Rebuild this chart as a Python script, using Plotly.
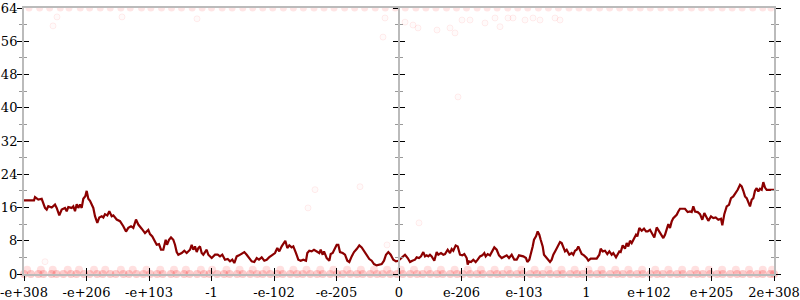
import plotly.graph_objects as go

# ---- axis tick labels ----
tick_pos = [0, 1, 2, 3, 4, 5, 6, 7, 8, 9, 10, 11, 12]
tick_text = ["-e+308", "-e+206", "-e+103", "-1", "-e-102", "-e-205", "0",
             "e-206", "e-103", "1", "e+102", "e+205", "2e+308"]
y_ticks = [0, 8, 16, 24, 32, 40, 48, 56, 64]

# ---- main smoothed line (x in tick units, y values) ----
line_x = [0, 0.16, 0.176, 0.229, 0.283, 0.336, 0.363, 0.389, 0.443, 0.496, 0.523, 0.565, 0.603, 0.656, 0.683,
          0.709, 0.763, 0.789, 0.816, 0.843, 0.869, 0.896, 0.923, 0.949, 0.981, 1.003, 1.029, 1.056, 1.109, 1.136,
          1.173, 1.205, 1.243, 1.269, 1.296, 1.333, 1.365, 1.403, 1.429, 1.483, 1.536, 1.589, 1.632, 1.669, 1.712,
          1.749, 1.792, 1.829, 1.883, 1.936,
          1.989, 2.016, 2.053, 2.096, 2.123, 2.16, 2.192, 2.229, 2.267, 2.288, 2.32, 2.352, 2.389, 2.416, 2.443,
          2.469, 2.523, 2.565, 2.603, 2.656, 2.683, 2.709, 2.736, 2.763, 2.789, 2.816, 2.843, 2.869, 2.923, 2.949,
          3.003, 3.056, 3.099, 3.136, 3.173, 3.216, 3.259, 3.296, 3.333, 3.365, 3.403, 3.44, 3.483, 3.525, 3.563,
          3.6, 3.643, 3.685, 3.723, 3.76, 3.803, 3.845, 3.883, 3.92,
          4.016, 4.053, 4.085, 4.123, 4.16, 4.181, 4.213, 4.245, 4.283, 4.309, 4.352, 4.389, 4.427, 4.469, 4.512,
          4.533, 4.565, 4.603, 4.64, 4.683, 4.725, 4.747, 4.779, 4.8, 4.843, 4.885, 4.907, 4.939, 4.976, 5.003,
          5.029, 5.056, 5.099, 5.136, 5.173, 5.205, 5.243, 5.28, 5.323, 5.365, 5.403, 5.44, 5.483, 5.525, 5.563,
          5.6, 5.643, 5.685, 5.723, 5.76, 5.792, 5.829, 5.867, 5.909, 5.952,
          5.989, 6.032, 6.069, 6.096, 6.139, 6.176, 6.213, 6.256, 6.283, 6.32, 6.352, 6.389, 6.416, 6.443, 6.469,
          6.496, 6.523, 6.565, 6.603, 6.629, 6.672, 6.709, 6.736, 6.779, 6.816, 6.843, 6.869, 6.907, 6.939, 6.976,
          7.013, 7.045, 7.083, 7.099, 7.12, 7.152, 7.189, 7.227, 7.259, 7.296, 7.333, 7.365, 7.387, 7.419, 7.456,
          7.483, 7.525, 7.563, 7.6, 7.643, 7.685, 7.723, 7.76, 7.803, 7.845, 7.883, 7.92,
          7.989, 8.032, 8.053, 8.085, 8.107, 8.139, 8.16, 8.192, 8.219, 8.245, 8.267, 8.299, 8.32, 8.352, 8.389,
          8.416, 8.443, 8.469, 8.512, 8.549, 8.576, 8.603, 8.629, 8.656, 8.683, 8.725, 8.763, 8.789, 8.816, 8.843,
          8.869, 8.896, 8.923, 8.96, 9.003, 9.029, 9.067, 9.109, 9.163, 9.205, 9.227, 9.259, 9.296, 9.333, 9.365,
          9.403, 9.429, 9.472, 9.493, 9.525, 9.547, 9.579, 9.616, 9.643, 9.669, 9.696, 9.723, 9.76, 9.792, 9.813,
          9.845, 9.883, 9.92, 9.952,
          9.979, 10.016, 10.053, 10.085, 10.123, 10.16, 10.192, 10.229, 10.256, 10.283, 10.309, 10.336, 10.363,
          10.389, 10.416, 10.443, 10.469, 10.496, 10.533, 10.576, 10.619, 10.656, 10.683, 10.709, 10.736, 10.779,
          10.816, 10.853, 10.885, 10.923, 10.949, 10.992, 11.029, 11.067, 11.109, 11.152, 11.173, 11.205, 11.243,
          11.28, 11.312, 11.349, 11.387, 11.419, 11.456, 11.483, 11.509, 11.536, 11.563, 11.589, 11.616, 11.643,
          11.669, 11.696, 11.723, 11.749, 11.776, 11.803, 11.829, 11.856, 11.883, 11.936, 12.0]
line_y = [17.7, 17.7, 18.5, 17.9, 18.1, 15.9, 15.5, 16.3, 16.0, 16.7, 15.9, 14.1, 15.5, 15.9, 15.1,
          16.1, 15.9, 16.3, 15.1, 16.8, 15.9, 16.7, 15.9, 18.1, 18.7, 20.0, 18.1, 17.6, 15.9, 13.9,
          12.3, 13.6, 13.9, 13.6, 14.4, 14.1, 15.1, 13.9, 14.1, 13.1, 12.7, 11.5, 10.2, 11.1, 11.5,
          11.1, 13.1, 11.9, 10.9, 9.85,
          10.6, 9.6, 9.05, 7.84, 7.04, 7.2, 5.84, 5.84, 8.24, 7.04, 8.24, 8.8, 8.24, 7.04, 5.28,
          4.64, 5.04, 5.6, 5.04, 5.84, 7.04, 5.84, 6.64, 5.28, 6.24, 6.64, 5.04, 4.64, 5.84, 4.64,
          3.84, 4.64, 4.64, 4.24, 4.64, 3.44, 3.6, 3.04, 3.44, 2.64, 4.24, 4.48, 4.8, 5.28, 4.64,
          4.0, 3.04, 2.88, 3.84, 3.44, 4.0, 3.2, 3.44, 4.0,
          5.04, 6.24, 5.44, 6.64, 7.44, 8.0, 6.24, 6.88, 6.4, 6.64, 5.04, 3.44, 3.2, 3.44, 3.2,
          5.04, 5.6, 5.44, 5.84, 5.44, 5.04, 5.84, 4.64, 5.44, 3.84, 3.2, 4.8, 5.04, 6.0, 7.04,
          7.04, 5.28, 5.04, 4.64, 3.2, 2.88, 4.24, 5.28, 6.0, 6.88, 6.4, 5.6, 4.64, 3.6, 3.2,
          2.4, 2.08, 2.24, 2.4, 3.2, 4.64, 5.28, 4.64, 3.44, 3.04,
          3.2, 3.84, 4.48, 4.64, 3.84, 2.88, 3.2, 3.44, 4.0, 3.84, 4.24, 5.28, 4.24, 4.48, 4.24,
          4.64, 4.24, 3.2, 5.28, 4.64, 5.04, 4.64, 4.8, 5.84, 5.04, 6.0, 5.6, 6.88, 6.64, 4.64,
          4.48, 4.8, 3.84, 2.24, 3.04, 2.88, 3.44, 2.88, 3.44, 4.24, 4.48, 5.04, 4.24, 4.8, 4.48,
          5.28, 6.4, 5.84, 4.48, 3.84, 4.24, 4.48, 3.84, 4.64, 3.44, 3.44, 4.48,
          4.24, 3.84, 2.88, 3.44, 4.64, 6.64, 8.24, 9.05, 10.25, 9.45, 8.24, 6.64, 4.64, 4.0, 3.44,
          2.88, 3.44, 4.64, 5.84, 7.04, 7.68, 7.44, 6.24, 5.44, 5.84, 4.64, 5.04, 4.64, 5.6, 5.84,
          6.64, 5.6, 4.8, 4.48, 3.84, 3.2, 3.68, 3.68, 3.68, 4.64, 6.08, 5.44, 5.6, 4.8, 5.44,
          4.64, 5.04, 4.0, 4.48, 5.44, 5.28, 6.88, 6.08, 7.44, 6.64, 8.0, 7.44, 8.64, 9.45, 9.05,
          11.05, 10.4, 10.9, 10.25,
          10.25, 10.65, 9.45, 8.8, 11.2, 10.25, 9.28, 8.64, 9.45, 11.05, 12.0, 11.05, 12.65,
          13.45, 13.85, 14.25, 15.05, 15.7, 15.7, 15.7, 14.9, 15.05, 14.9, 16.26, 15.05, 14.9,
          14.4, 13.05, 14.65, 13.6, 12.8, 13.85, 13.45, 13.6, 13.05, 13.3, 11.7, 14.4, 16.26,
          16.65, 18.25, 18.66, 19.46, 20.26, 21.46, 21.06, 20.02, 18.66, 18.25, 17.06, 16.26, 17.86,
          18.25, 20.02, 20.66, 19.86, 20.5, 20.26, 22.1, 20.8, 20.26, 20.26, 20.26]

# ---- faint sample points ----
bottom0_x = [0.0, 0.11, 0.23, 0.31, 0.44, 0.52, 0.63, 0.75, 0.84, 0.96, 1.05, 1.17, 1.26, 1.38, 1.47, 1.59,
             1.68, 1.8, 1.91, 2.02, 2.13, 2.22, 2.35, 2.44, 2.56, 2.65, 2.77, 2.88, 2.97, 3.09, 3.2, 3.29,
             3.41, 3.5, 3.62, 3.73, 3.82, 3.94, 4.05, 4.14, 4.26, 4.37, 4.46, 4.58, 4.69, 4.78, 4.9, 5.01,
             5.1, 5.22, 5.33, 5.42, 5.54, 5.65, 5.74, 5.86, 5.97, 6.06, 6.18, 6.29, 6.38, 6.5, 6.61, 6.7,
             6.82, 6.93, 7.02, 7.14, 7.25, 7.34, 7.46, 7.57, 7.66, 7.78, 7.89, 7.98, 8.1, 8.21, 8.3, 8.42,
             8.53, 8.62, 8.74, 8.85, 8.94, 9.06, 9.17, 9.26, 9.38, 9.49, 9.58, 9.7, 9.81, 9.9, 10.02, 10.13,
             10.22, 10.34, 10.45, 10.54, 10.66, 10.77, 10.86, 10.98, 11.09, 11.18, 11.3, 11.41, 11.5, 11.62,
             11.73, 11.82, 11.94, 12.0]
bottom1_x = [0.05, 0.27, 0.46, 0.7, 0.88, 1.12, 1.3, 1.55, 1.74, 1.96, 2.18, 2.4, 2.59, 2.83, 3.01, 3.24,
             3.45, 3.66, 3.88, 4.1, 4.31, 4.52, 4.74, 4.95, 5.17, 5.39, 5.6, 5.81, 6.03, 6.24, 6.46, 6.67,
             6.89, 7.1, 7.31, 7.53, 7.74, 7.96, 8.17, 8.39, 8.6, 8.81, 9.03, 9.24, 9.46, 9.67, 9.89, 10.1,
             10.31, 10.53, 10.74, 10.96, 11.17, 11.39, 11.6, 11.82, 11.97]
top_x = [0.08, 0.25, 0.41, 0.58, 0.72, 0.9, 1.05, 1.22, 1.38, 1.55, 1.7, 1.88, 2.03, 2.2, 2.36, 2.52, 2.69,
         2.85, 3.0, 3.17, 3.33, 3.5, 3.66, 3.82, 3.98, 4.15, 4.31, 4.47, 4.64, 4.8, 4.96, 5.13, 5.29, 5.45,
         5.62, 5.78, 5.94, 6.1, 6.27, 6.43, 6.59, 6.76, 6.92, 7.08, 7.25, 7.41, 7.57, 7.74, 7.9, 8.06, 8.23,
         8.39, 8.55, 8.72, 8.88, 9.04, 9.21, 9.37, 9.53, 9.7, 9.86, 10.02, 10.19, 10.35, 10.51, 10.68, 10.84,
         11.0, 11.17, 11.33, 11.49, 11.66, 11.82, 11.95]
sparse_x = [0.336, 0.528, 0.464, 1.568, 2.768, 4.656, 5.376, 4.544, 5.808, 6.32, 5.744, 6.944, 5.776, 6.096,
            6.224, 6.304, 6.608, 6.816, 6.896, 7.008, 7.136, 7.376, 7.536, 7.616, 7.744, 7.824, 8.016, 8.144,
            8.256, 8.496, 8.576]
sparse_y = [2.96, 61.85, 59.7, 61.85, 61.4, 20.3, 21.0, 15.9, 7.0, 12.3, 57.0, 42.6, 61.6, 60.6, 59.9,
            59.2, 58.7, 59.2, 58.0, 61.1, 61.1, 60.4, 61.6, 59.5, 61.6, 61.6, 61.1, 61.6, 61.1, 61.6, 61.1]

FONT = "DejaVu Serif"
row1_marker = dict(size=8, color="rgba(255,0,0,0.12)", line=dict(width=0))
row0_marker = dict(size=8, color="rgba(240,20,20,0.22)", line=dict(width=0))
top_marker = dict(size=7, color="rgba(255,0,0,0.10)", line=dict(width=0))

fig = go.Figure()
fig.add_trace(go.Scatter(x=bottom1_x, y=[1.0] * len(bottom1_x), mode="markers",
                         marker=row1_marker, cliponaxis=False, hoverinfo="skip"))
fig.add_trace(go.Scatter(x=bottom0_x, y=[0.0] * len(bottom0_x), mode="markers",
                         marker=row0_marker, cliponaxis=False, hoverinfo="skip"))
fig.add_trace(go.Scatter(x=top_x, y=[64.0] * len(top_x), mode="markers",
                         marker=top_marker, cliponaxis=True, hoverinfo="skip"))
fig.add_trace(go.Scatter(x=sparse_x, y=sparse_y, mode="markers",
                         marker=dict(size=6, color="rgba(255,0,0,0.02)",
                                     line=dict(color="rgba(255,0,0,0.07)", width=1)),
                         hoverinfo="skip"))
fig.add_trace(go.Scatter(x=line_x, y=line_y, mode="lines",
                         line=dict(color="#8b0000", width=2.2)))
# carrier traces for the extra tick axes
fig.add_trace(go.Scatter(x=[], y=[], xaxis="x2", yaxis="y2"))
fig.add_trace(go.Scatter(x=[], y=[], xaxis="x", yaxis="y3"))
fig.add_trace(go.Scatter(x=[], y=[], xaxis="x", yaxis="y4"))

common_x = dict(range=[0, 12], showgrid=False, zeroline=False, fixedrange=True, automargin=False)
common_y = dict(range=[0, 64], showgrid=False, zeroline=False, fixedrange=True,
                tickvals=y_ticks, automargin=False)

fig.update_layout(
    width=800, height=300,
    margin=dict(l=24, r=26, t=8, b=26, autoexpand=False),
    paper_bgcolor="white", plot_bgcolor="white",
    showlegend=False,
    xaxis=dict(**common_x, tickvals=tick_pos, ticktext=tick_text,
               ticks="outside", ticklen=5, tickwidth=1, tickcolor="#000",
               showline=True, linecolor="#bbbbbb", linewidth=2, mirror=True,
               tickfont=dict(family=FONT, size=13, color="#000")),
    xaxis2=dict(**common_x, overlaying="x", anchor="y", side="bottom",
                tickvals=tick_pos, ticks="inside", ticklen=6, tickwidth=1,
                tickcolor="#000", showticklabels=False, showline=False),
    yaxis=dict(**common_y, ticks="outside", ticklen=5, tickwidth=1, tickcolor="#000",
               minor=dict(dtick=4, tick0=0, ticks="outside", ticklen=3, tickcolor="#999"),
               showline=True, linecolor="#bbbbbb", linewidth=2, mirror="ticks",
               ticklabelstandoff=-3,
               tickfont=dict(family=FONT, size=13, color="#000")),
    yaxis2=dict(**common_y, overlaying="y", anchor="x2", side="left",
                ticks="inside", ticklen=5, tickwidth=1, tickcolor="#000",
                minor=dict(dtick=4, tick0=0, ticks="inside", ticklen=3, tickcolor="#999"),
                mirror="ticks", showline=False, showticklabels=False),
    yaxis3=dict(**common_y, overlaying="y", anchor="free", position=0.5, side="left",
                ticks="outside", ticklen=5, tickwidth=1, tickcolor="#000",
                minor=dict(dtick=4, tick0=0, ticks="outside", ticklen=3, tickcolor="#999"),
                showline=True, linecolor="#bbbbbb", linewidth=2, showticklabels=False),
    yaxis4=dict(**common_y, overlaying="y", anchor="free", position=0.5, side="left",
                ticks="inside", ticklen=5, tickwidth=1, tickcolor="#000",
                minor=dict(dtick=4, tick0=0, ticks="inside", ticklen=3, tickcolor="#999"),
                showline=False, showticklabels=False),
)

fig.write_html("out.html")
